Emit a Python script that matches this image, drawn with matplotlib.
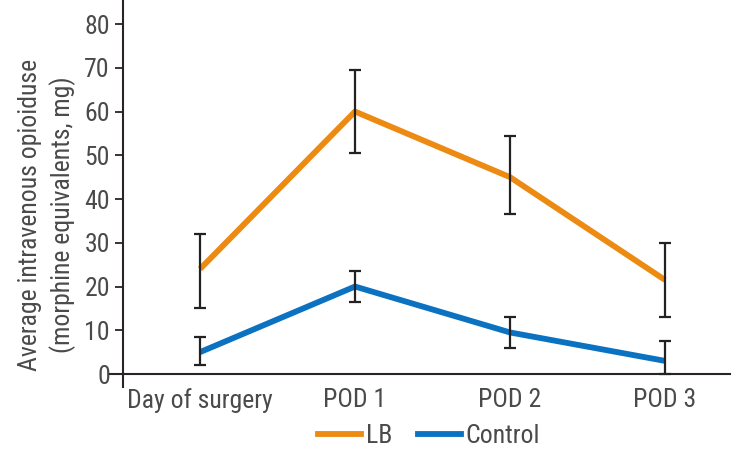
import matplotlib
matplotlib.use("Agg")
import matplotlib.pyplot as plt
from matplotlib import font_manager
from matplotlib.lines import Line2D

categories = ["Day of surgery", "POD 1", "POD 2", "POD 3"]
lb_mean = [24, 60, 45, 21.5]
lb_low = [15, 50.5, 36.5, 13]
lb_high = [32, 69.5, 54.5, 30]
ctrl_mean = [5, 20, 9.5, 3]
ctrl_low = [2, 16.5, 6, 0]
ctrl_high = [8.5, 23.5, 13, 7.5]
yticks = [0, 10, 20, 30, 40, 50, 60, 70, 80]

names = {f.name for f in font_manager.fontManager.ttflist}
prefs = ["Roboto Condensed", "Liberation Sans Narrow", "Arial Narrow", "Helvetica Condensed",
         "PT Sans Narrow", "Archivo Narrow", "Barlow Condensed", "Asap Condensed"]
fam = next((p for p in prefs if p in names), "DejaVu Sans")
plt.rcParams["font.family"] = [fam, "DejaVu Sans"]

W, H = 738, 454
fig = plt.figure(figsize=(W / 100, H / 100), dpi=100)
left_px, right_px, top_px, bot_px = 110, 730, 0, 387
ax = fig.add_axes([left_px / W, 1 - bot_px / H, (right_px - left_px) / W, (bot_px - top_px) / H])

x = list(range(len(categories)))
orange = "#EC8A12"
blue = "#0A72C0"
axc = "#2a2424"
txtc = "#4a4a4a"
fs = 18.5

ax.plot(x, lb_mean, color=orange, lw=4.2, solid_capstyle="butt", zorder=2)
ax.plot(x, ctrl_mean, color=blue, lw=4.2, solid_capstyle="butt", zorder=2)
for m, lo, hi in [(lb_mean, lb_low, lb_high), (ctrl_mean, ctrl_low, ctrl_high)]:
    ax.errorbar(x, m, yerr=[[a - b for a, b in zip(m, lo)], [c - a for a, c in zip(m, hi)]],
                fmt="none", ecolor="#222222", elinewidth=1.6, capsize=4.2, capthick=1.6, zorder=3)

# x: categories at px 200, 355, 510, 665 (155 px per step)
ax.set_xlim(-(200 - left_px) / 155, 3 + (right_px - 665) / 155)
ax.set_ylim(-2.97, 85.5)

for s in ["top", "right"]:
    ax.spines[s].set_visible(False)
ax.spines["left"].set_position(("data", -(200 - 123) / 155))
ax.spines["bottom"].set_position(("data", 0))
for s in ["left", "bottom"]:
    ax.spines[s].set_color(axc)
    ax.spines[s].set_linewidth(1.5)

ax.set_yticks(yticks)
ax.set_yticklabels([str(v) for v in yticks])
ax.tick_params(axis="y", direction="out", length=5.5, width=1.3, color=axc, labelsize=fs,
               labelcolor=txtc, pad=4)
ax.set_xticks(x)
ax.set_xticklabels(categories)
ax.tick_params(axis="x", length=0, labelsize=fs, labelcolor=txtc, pad=10)

fig.text(30 / W, 1 - 215 / H, "Average intravenous opioiduse", rotation=90, ha="center", va="center",
         fontsize=fs, color=txtc)
fig.text(63 / W, 1 - 215 / H, "(morphine equivalents, mg)", rotation=90, ha="center", va="center",
         fontsize=fs, color=txtc)

handles = [Line2D([], [], color=orange, lw=4.2), Line2D([], [], color=blue, lw=4.2)]
fig.legend(handles, ["LB", "Control"], loc="center", bbox_to_anchor=(429 / W, 1 - 436 / H), ncol=2,
           frameon=False, fontsize=fs, handlelength=1.67, handletextpad=0.2, columnspacing=1.0,
           labelcolor=txtc, borderpad=0, borderaxespad=0)

fig.savefig("out.png", dpi=100)
